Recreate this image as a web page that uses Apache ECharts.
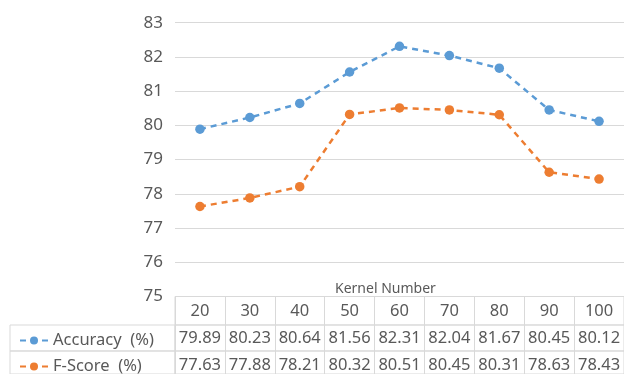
<!DOCTYPE html>
<html>
<head>
<meta charset="utf-8">
<script src="https://cdn.jsdelivr.net/npm/echarts@6/dist/echarts.min.js"></script>
<style>
  html, body { margin: 0; padding: 0; background: #ffffff; }
  #chart { width: 624px; height: 374px; }
</style>
</head>
<body>
<div id="chart"></div>
<script>
// Kernel numbers along the x axis
const kernels = [20, 30, 40, 50, 60, 70, 80, 90, 100];
// Accuracy (%) for each kernel number
const accuracy = [79.89, 80.23, 80.64, 81.56, 82.31, 82.04, 81.67, 80.45, 80.12];
// F-Score (%) for each kernel number
const fScore = [77.63, 77.88, 78.21, 80.32, 80.51, 80.45, 80.31, 78.63, 78.43];
// Value axis range and step
const yMin = 75, yMax = 83, yStep = 1;
const seriesNames = ['Accuracy  (%)', 'F-Score  (%)'];
const xTitle = 'Kernel Number';

const BLUE = '#5B9BD5';
const ORANGE = '#ED7D31';
const TEXT = '#595959';
const RULE = '#d9d9d9';
const FONT = '"Noto Sans", "Open Sans", sans-serif';
const CELL_FONT = 16.5;

// Plot area and the data table rows underneath it
const plotLeft = 175, plotWidth = 453;
const plotTop = 22.7, plotBottom = 296.5;
const headerRow = { top: 296.5, height: 28.5 };
const accRow = { top: 325, height: 26 };
const fRow = { top: 351, height: 26 };
const labelLeft = 10;

const chart = echarts.init(document.getElementById('chart'), null, { renderer: 'canvas' });

function tableAxis(gridIndex, labels, margin) {
  return {
    type: 'category', gridIndex: gridIndex, data: labels, position: 'top',
    boundaryGap: true,
    axisLine: { show: false }, axisTick: { show: false },
    splitLine: { show: true, interval: 0, lineStyle: { color: RULE, width: 1 } },
    axisLabel: {
      show: true, inside: true, interval: 0, margin: margin,
      verticalAlign: 'middle', fontSize: CELL_FONT, color: TEXT, fontFamily: FONT
    }
  };
}
function hiddenValueAxis(gridIndex) {
  return { type: 'value', gridIndex: gridIndex, show: false };
}
function cellGrid(left, width, row) {
  return { left: left, width: width, top: row.top, height: row.height,
           show: true, borderColor: RULE, borderWidth: 1, backgroundColor: 'transparent' };
}
function rowLegend(name, row) {
  return {
    data: [name], orient: 'horizontal', left: 14, top: row.top + row.height / 2 - 11,
    itemWidth: 28, itemHeight: 10, selectedMode: false,
    textStyle: { fontSize: CELL_FONT, color: TEXT, fontFamily: FONT },
    lineStyle: { type: 'inherit' }
  };
}
function lineSeries(name, data, color) {
  return {
    name: name, type: 'line', xAxisIndex: 0, yAxisIndex: 0, data: data,
    symbol: 'circle', symbolSize: 9.5, showSymbol: true,
    lineStyle: { color: color, width: 2.5, type: [6, 5] },
    itemStyle: { color: color, borderWidth: 0 },
    emphasis: { disabled: true }
  };
}

const option = {
  animation: false,
  backgroundColor: '#ffffff',
  title: {
    text: xTitle, left: 330, top: 277,
    textStyle: { fontSize: 14, fontWeight: 'normal', color: TEXT, fontFamily: FONT }
  },
  legend: [
    rowLegend(seriesNames[0], accRow),
    rowLegend(seriesNames[1], fRow)
  ],
  grid: [
    { left: plotLeft, width: plotWidth, top: plotTop, height: plotBottom - plotTop, show: false },
    cellGrid(plotLeft, plotWidth, headerRow),
    cellGrid(plotLeft, plotWidth, accRow),
    cellGrid(plotLeft, plotWidth, fRow),
    cellGrid(labelLeft, plotLeft - labelLeft, accRow),
    cellGrid(labelLeft, plotLeft - labelLeft, fRow)
  ],
  xAxis: [
    { type: 'category', gridIndex: 0, data: kernels.map(String), boundaryGap: true,
      axisLine: { show: false }, axisTick: { show: false }, axisLabel: { show: false },
      splitLine: { show: false } },
    tableAxis(1, kernels.map(String), 15),
    tableAxis(2, accuracy.map(v => v.toFixed(2)), 13),
    tableAxis(3, fScore.map(v => v.toFixed(2)), 14),
    hiddenValueAxis(4),
    hiddenValueAxis(5)
  ],
  yAxis: [
    { type: 'value', gridIndex: 0, min: yMin, max: yMax, interval: yStep,
      axisLine: { show: false }, axisTick: { show: false },
      axisLabel: { fontSize: 17, color: TEXT, margin: 12, fontFamily: FONT },
      splitLine: { show: true, lineStyle: { color: RULE, width: 1 } } },
    hiddenValueAxis(1),
    hiddenValueAxis(2),
    hiddenValueAxis(3),
    hiddenValueAxis(4),
    hiddenValueAxis(5)
  ],
  series: [
    lineSeries(seriesNames[0], accuracy, BLUE),
    lineSeries(seriesNames[1], fScore, ORANGE)
  ]
};

chart.setOption(option);
</script>
</body>
</html>
